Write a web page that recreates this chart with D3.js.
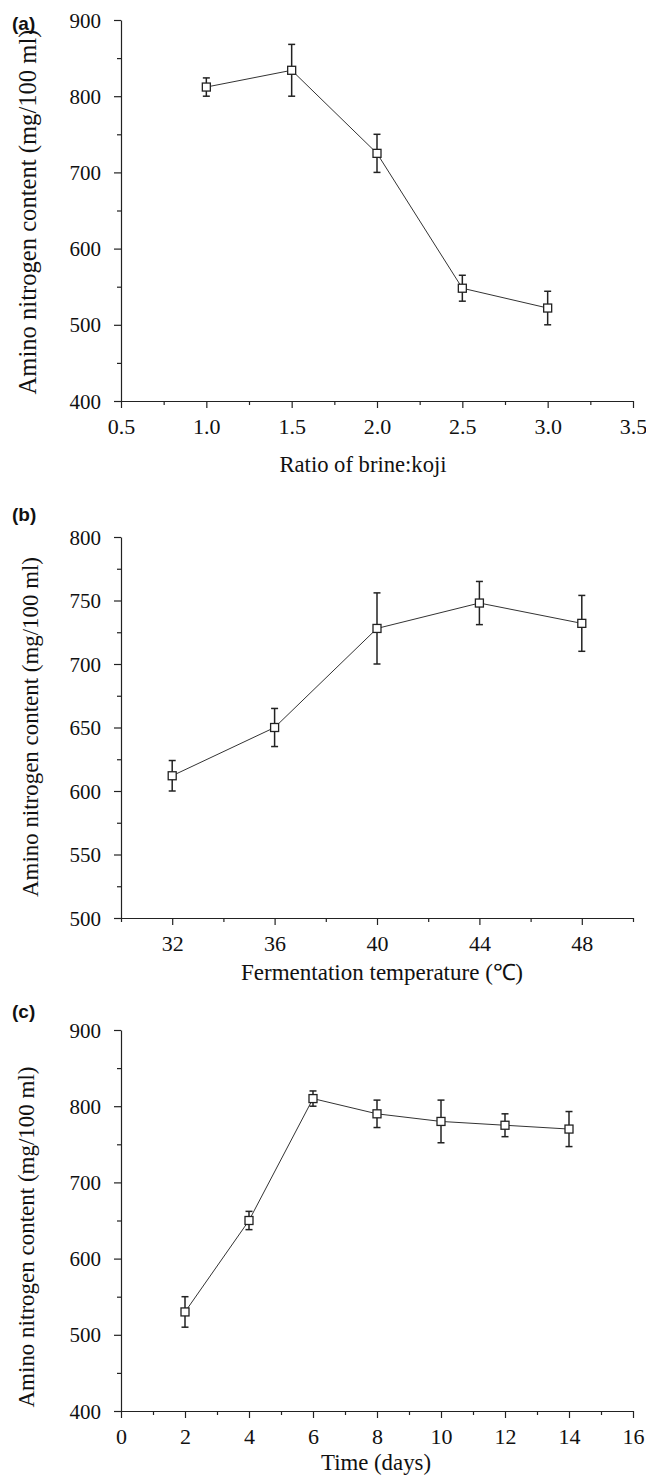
<!DOCTYPE html>
<html>
<head>
<meta charset="utf-8">
<script src="https://cdn.jsdelivr.net/npm/d3@7"></script>
<style>
  body { margin: 0; background: #fff; }
  svg { display: block; }
</style>
</head>
<body>
<div id="viz"></div>
<script>
// panel (a): ratio of brine:koji
const ratioX = [1.0, 1.5, 2.0, 2.5, 3.0];
const ratioY = [812, 834, 725, 548, 522];
const ratioErr = [12, 34, 25, 17, 22];
const ratioTicks = [0.5, 1.0, 1.5, 2.0, 2.5, 3.0, 3.5];
const ratioMinor = [0.75, 1.25, 1.75, 2.25, 2.75, 3.25];

// panel (b): fermentation temperature
const tempX = [32, 36, 40, 44, 48];
const tempY = [612, 650, 728, 748, 732];
const tempErr = [12, 15, 28, 17, 22];
const tempTicks = [32, 36, 40, 44, 48];
const tempMinor = [30, 34, 38, 42, 46, 50];

// panel (c): time
const timeX = [2, 4, 6, 8, 10, 12, 14];
const timeY = [530, 650, 810, 790, 780, 775, 770];
const timeErr = [20, 12, 10, 18, 28, 15, 23];
const timeTicks = [0, 2, 4, 6, 8, 10, 12, 14, 16];
const timeMinor = [1, 3, 5, 7, 9, 11, 13, 15];

const yTicksA = [400, 500, 600, 700, 800, 900];
const yMinorA = [450, 550, 650, 750, 850];
const yTicksB = [500, 550, 600, 650, 700, 750, 800];
const yMinorB = [525, 575, 625, 675, 725, 775];

const W = 646, H = 1477;
const serif = '"Liberation Serif", "Times New Roman", serif';

const svg = d3.select('#viz').append('svg')
  .attr('width', W).attr('height', H)
  .style('background', '#fff');

const panels = [
  {
    label: '(a)', labelY: 30, top: 20,
    xs: ratioX, ys: ratioY, errs: ratioErr,
    xDomain: [0.5, 3.5], xTicks: ratioTicks, xMinor: ratioMinor, xFmt: d3.format('.1f'),
    yDomain: [400, 900], yTicks: yTicksA, yMinor: yMinorA,
    xTitle: 'Ratio of brine:koji', xTitleX: 363, xTitleY: 472, xTitleLen: 167,
    yTitleSize: 24.5, yTitleLen: 365, yTitleC: 212, yTitleX: 36
  },
  {
    label: '(b)', labelY: 521, top: 537,
    xs: tempX, ys: tempY, errs: tempErr,
    xDomain: [30, 50], xTicks: tempTicks, xMinor: tempMinor, xFmt: d3.format('d'),
    yDomain: [500, 800], yTicks: yTicksB, yMinor: yMinorB,
    xTitle: 'Fermentation temperature (\u2103)', xTitleX: 382, xTitleY: 980, xTitleLen: 282,
    yTitleSize: 23, yTitleLen: 340, yTitleC: 727, yTitleX: 38
  },
  {
    label: '(c)', labelY: 1018, top: 1030,
    xs: timeX, ys: timeY, errs: timeErr,
    xDomain: [0, 16], xTicks: timeTicks, xMinor: timeMinor, xFmt: d3.format('d'),
    yDomain: [400, 900], yTicks: yTicksA, yMinor: yMinorA,
    xTitle: 'Time (days)', xTitleX: 376, xTitleY: 1470, xTitleLen: 110,
    yTitleSize: 23, yTitleLen: 341, yTitleC: 1237, yTitleX: 34
  }
];

const left = 121, right = 633, plotH = 381;

panels.forEach(function (p) {
  const g = svg.append('g');
  const bottom = p.top + plotH;

  const x = d3.scaleLinear().domain(p.xDomain).range([left, right]);
  const y = d3.scaleLinear().domain(p.yDomain).range([bottom, p.top]);

  // minor ticks first
  g.append('g')
    .attr('transform', `translate(0,${bottom})`)
    .call(d3.axisBottom(x).tickValues(p.xMinor).tickSize(4).tickSizeOuter(0).tickFormat(''))
    .call(a => a.select('.domain').remove());
  g.append('g')
    .attr('transform', `translate(${left},0)`)
    .call(d3.axisLeft(y).tickValues(p.yMinor).tickSize(4).tickSizeOuter(0).tickFormat(''))
    .call(a => a.select('.domain').remove());

  // major axes
  const xAxis = g.append('g')
    .attr('transform', `translate(0,${bottom})`)
    .call(d3.axisBottom(x).tickValues(p.xTicks).tickSize(7).tickSizeOuter(0).tickFormat(p.xFmt));
  xAxis.selectAll('text')
    .attr('y', 33).attr('dy', 0)
    .style('font-family', serif).style('font-size', '22px').attr('fill', '#111');

  const yAxis = g.append('g')
    .attr('transform', `translate(${left},0)`)
    .call(d3.axisLeft(y).tickValues(p.yTicks).tickSize(7).tickSizeOuter(0));
  yAxis.selectAll('text')
    .attr('x', -20).attr('dy', '0.34em')
    .style('font-family', serif).style('font-size', '21px').attr('fill', '#111');

  g.selectAll('.domain, .tick line').attr('stroke', '#222').attr('stroke-width', 1.2);

  // axis titles
  g.append('text')
    .attr('x', p.xTitleX).attr('y', p.xTitleY)
    .attr('text-anchor', 'middle')
    .attr('textLength', p.xTitleLen).attr('lengthAdjust', 'spacingAndGlyphs')
    .style('font-family', serif).style('font-size', '22.5px').attr('fill', '#111')
    .text(p.xTitle);

  g.append('text')
    .attr('transform', `translate(${p.yTitleX},${p.yTitleC}) rotate(-90)`)
    .attr('text-anchor', 'middle')
    .attr('textLength', p.yTitleLen).attr('lengthAdjust', 'spacingAndGlyphs')
    .style('font-family', serif).style('font-size', p.yTitleSize + 'px').attr('fill', '#111')
    .text('Amino nitrogen content (mg/100 ml)');

  // panel label
  g.append('text')
    .attr('x', 12).attr('y', p.labelY)
    .style('font-family', '"Liberation Sans", Arial, sans-serif')
    .style('font-weight', 'bold').style('font-size', '19px').attr('fill', '#111')
    .text(p.label);

  const pts = p.xs.map((v, i) => ({ x: v, y: p.ys[i], e: p.errs[i] }));

  // connecting line
  g.append('path')
    .datum(pts)
    .attr('fill', 'none')
    .attr('stroke', '#333')
    .attr('stroke-width', 1)
    .attr('d', d3.line().x(d => x(d.x)).y(d => y(d.y)));

  // error bars
  const eb = g.append('g').attr('stroke', '#222').attr('stroke-width', 1.5);
  eb.selectAll('line.v').data(pts).join('line').attr('class', 'v')
    .attr('x1', d => x(d.x)).attr('x2', d => x(d.x))
    .attr('y1', d => y(d.y + d.e)).attr('y2', d => y(d.y - d.e));
  eb.selectAll('line.t').data(pts).join('line').attr('class', 't')
    .attr('x1', d => x(d.x) - 3.5).attr('x2', d => x(d.x) + 3.5)
    .attr('y1', d => y(d.y + d.e)).attr('y2', d => y(d.y + d.e));
  eb.selectAll('line.b').data(pts).join('line').attr('class', 'b')
    .attr('x1', d => x(d.x) - 3.5).attr('x2', d => x(d.x) + 3.5)
    .attr('y1', d => y(d.y - d.e)).attr('y2', d => y(d.y - d.e));

  // open square markers
  g.selectAll('rect.m').data(pts).join('rect').attr('class', 'm')
    .attr('x', d => x(d.x) - 4).attr('y', d => y(d.y) - 4)
    .attr('width', 8).attr('height', 8)
    .attr('fill', '#fff').attr('stroke', '#222').attr('stroke-width', 1.3);
});
</script>
</body>
</html>
